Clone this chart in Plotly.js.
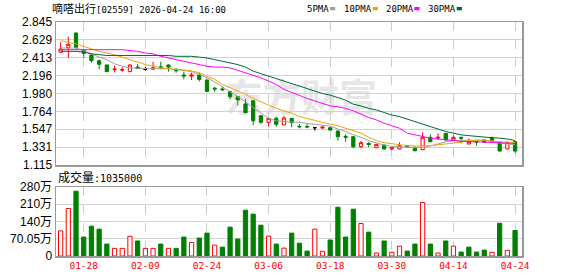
<!DOCTYPE html>
<html><head><meta charset="utf-8">
<script src="https://cdn.plot.ly/plotly-3.0.1.min.js"></script>
<style>
html,body{margin:0;padding:0;background:#fff;}
#wrap{position:relative;width:578px;height:276px;overflow:hidden;}
#wm{position:absolute;left:225px;top:67px;font:bold 38px "Noto Sans CJK SC";color:#e6e6e6;white-space:nowrap;letter-spacing:0px;}
#chart{position:absolute;left:0;top:0;width:578px;height:276px;}
</style></head><body>
<div id="wrap"><div id="wm">东方财富</div><div id="chart"></div></div>
<script>
const dates = ['01-23','01-26','01-27','01-28','01-29','01-30','02-02','02-03','02-04','02-05','02-06','02-09','02-10','02-11','02-12','02-13','02-16','02-20','02-23','02-24','02-25','02-26','02-27','03-02','03-03','03-04','03-05','03-06','03-09','03-10','03-11','03-12','03-13','03-16','03-17','03-18','03-19','03-20','03-23','03-24','03-25','03-26','03-27','03-30','03-31','04-01','04-02','04-08','04-09','04-10','04-13','04-14','04-15','04-16','04-17','04-20','04-21','04-22','04-23','04-24'];
const openP  = [2.478,2.534,2.712,2.506,2.446,2.377,2.325,2.268,2.262,2.244,2.300,2.270,2.275,2.304,2.325,2.273,2.204,2.190,2.204,2.143,2.045,2.035,2.002,1.941,1.853,1.893,1.711,1.631,1.680,1.599,1.680,1.583,1.580,1.566,1.562,1.566,1.526,1.462,1.457,1.336,1.375,1.324,1.357,1.309,1.309,1.345,1.329,1.300,1.450,1.440,1.498,1.417,1.450,1.369,1.397,1.417,1.450,1.390,1.309,1.397];
const highP  = [2.600,2.667,2.715,2.510,2.450,2.389,2.330,2.318,2.300,2.330,2.337,2.300,2.365,2.365,2.330,2.285,2.244,2.232,2.232,2.145,2.062,2.062,2.014,1.945,1.911,1.895,1.715,1.680,1.700,1.711,1.682,1.611,1.611,1.575,1.578,1.578,1.530,1.486,1.460,1.405,1.395,1.370,1.360,1.330,1.390,1.350,1.335,1.510,1.486,1.498,1.500,1.474,1.455,1.438,1.417,1.420,1.455,1.395,1.395,1.400];
const lowP   = [2.478,2.413,2.522,2.413,2.353,2.273,2.240,2.236,2.240,2.240,2.280,2.256,2.264,2.273,2.244,2.232,2.151,2.143,2.125,2.000,2.002,2.014,1.911,1.836,1.745,1.595,1.615,1.578,1.578,1.599,1.571,1.559,1.559,1.530,1.555,1.530,1.409,1.397,1.317,1.317,1.330,1.320,1.300,1.290,1.305,1.325,1.280,1.295,1.390,1.417,1.417,1.410,1.377,1.365,1.348,1.385,1.385,1.280,1.305,1.264];
const closeP = [2.518,2.575,2.539,2.466,2.377,2.333,2.244,2.275,2.270,2.325,2.285,2.270,2.290,2.292,2.300,2.255,2.192,2.204,2.151,2.005,2.034,2.025,1.941,1.901,1.748,1.651,1.631,1.680,1.607,1.684,1.627,1.578,1.575,1.566,1.574,1.538,1.457,1.450,1.336,1.385,1.362,1.365,1.309,1.324,1.349,1.335,1.288,1.450,1.397,1.450,1.417,1.450,1.440,1.397,1.390,1.390,1.390,1.284,1.390,1.284];
const blackDojiDates = ['02-09','03-16'];
const volume = [1020000,1930000,2630000,770000,1210000,1090000,485000,310000,310000,800000,610000,310000,310000,485000,310000,310000,770000,550000,730000,930000,440000,360000,1170000,690000,1860000,1700000,1250000,810000,485000,320000,930000,520000,200000,1090000,190000,650000,1980000,770000,1900000,1320000,970000,120000,610000,150000,400000,200000,485000,2170000,485000,120000,610000,400000,160000,360000,160000,240000,150000,1330000,230000,1035000];
const volUp = [1,1,0,0,0,0,0,1,1,1,0,1,1,0,1,0,0,1,0,0,1,0,0,0,0,0,0,1,0,1,0,0,0,1,1,0,0,0,0,1,0,1,0,1,1,0,0,1,0,1,0,1,0,0,0,0,1,0,1,0];
const ma5  = [2.53,2.53,2.53,2.50,2.46,2.42,2.39,2.34,2.31,2.29,2.285,2.28,2.28,2.28,2.28,2.27,2.26,2.245,2.21,2.17,2.12,2.06,2.00,1.95,1.88,1.81,1.74,1.68,1.65,1.64,1.635,1.63,1.62,1.61,1.595,1.585,1.55,1.52,1.48,1.45,1.41,1.38,1.355,1.34,1.335,1.33,1.325,1.33,1.345,1.37,1.395,1.41,1.415,1.415,1.415,1.415,1.40,1.38,1.37,1.36];
const ma10 = [2.62,2.60,2.58,2.55,2.52,2.49,2.47,2.45,2.42,2.39,2.36,2.33,2.31,2.29,2.28,2.275,2.265,2.255,2.23,2.19,2.15,2.09,2.05,2.01,1.97,1.92,1.88,1.84,1.80,1.77,1.74,1.70,1.68,1.655,1.63,1.61,1.59,1.56,1.53,1.50,1.45,1.41,1.385,1.37,1.355,1.348,1.345,1.345,1.348,1.36,1.368,1.377,1.39,1.41,1.417,1.417,1.405,1.395,1.39,1.39];
const ma20 = [2.51,2.51,2.51,2.51,2.51,2.51,2.51,2.51,2.51,2.50,2.49,2.47,2.46,2.43,2.41,2.39,2.37,2.35,2.33,2.31,2.30,2.30,2.29,2.26,2.23,2.20,2.17,2.13,2.09,2.03,1.99,1.95,1.92,1.89,1.86,1.83,1.82,1.80,1.77,1.73,1.69,1.66,1.62,1.59,1.56,1.50,1.48,1.46,1.44,1.43,1.42,1.41,1.40,1.40,1.395,1.39,1.39,1.385,1.38,1.375];
const ma30 = [2.49,2.49,2.49,2.48,2.46,2.45,2.44,2.44,2.44,2.44,2.44,2.44,2.44,2.44,2.44,2.43,2.43,2.43,2.42,2.41,2.39,2.37,2.35,2.33,2.30,2.25,2.22,2.19,2.16,2.13,2.10,2.07,2.04,2.01,1.98,1.96,1.93,1.90,1.85,1.83,1.80,1.78,1.75,1.72,1.70,1.67,1.64,1.61,1.58,1.55,1.52,1.50,1.48,1.47,1.46,1.45,1.445,1.44,1.43,1.41];
const xTickLabels = ['01-28','02-09','02-24','03-06','03-18','03-30','04-14','04-24'];
const priceTicks = [1.115,1.331,1.547,1.764,1.980,2.196,2.413,2.629,2.845];
const volTickVals = [0,700500,1401000,2101500,2802000];
const volTickText = ['0','70.05万','140万','210万','280万'];
const maLabels = ['5PMA','10PMA','20PMA','30PMA'];
const titleText = '<span style="font-size:11px">嘀嗒出行</span>[02559] 2026-04-24 16:00';
const volLabel = '<span style="font-size:12px">成交量</span>:1035000';

const maColors = ['#a0a0a0','#f2a20c','#ff00ff','#006b33'];
const RED = '#ff0000', GREEN = '#008000';

const isBlack = dates.map(d => blackDojiDates.includes(d));
const pick = (arr, keep) => arr.map((v,i) => keep(i) ? v : null);

const traces = [];
traces.push({
  type:'candlestick', x:dates, xaxis:'x', yaxis:'y',
  open:pick(openP,i=>!isBlack[i]), high:pick(highP,i=>!isBlack[i]),
  low:pick(lowP,i=>!isBlack[i]), close:pick(closeP,i=>!isBlack[i]),
  increasing:{line:{color:RED,width:1}, fillcolor:'#ffffff'},
  decreasing:{line:{color:GREEN,width:1}, fillcolor:GREEN},
  whiskerwidth:0, hoverinfo:'skip', showlegend:false
});
traces.push({
  type:'candlestick', x:dates, xaxis:'x', yaxis:'y',
  open:pick(openP,i=>isBlack[i]), high:pick(highP,i=>isBlack[i]),
  low:pick(lowP,i=>isBlack[i]), close:pick(closeP,i=>isBlack[i]),
  increasing:{line:{color:'#000000',width:1}, fillcolor:'#000000'},
  decreasing:{line:{color:'#000000',width:1}, fillcolor:'#000000'},
  whiskerwidth:0, hoverinfo:'skip', showlegend:false
});
[ma5,ma10,ma20,ma30].forEach((m,k) => traces.push({
  type:'scatter', mode:'lines', x:dates, y:m, xaxis:'x', yaxis:'y',
  line:{color:maColors[k], width:1}, hoverinfo:'skip', showlegend:false
}));
traces.push({
  type:'bar', x:dates, y:volume, xaxis:'x2', yaxis:'y2', width:0.55,
  marker:{color:volUp.map(u => u ? '#ffffff' : GREEN),
          line:{color:volUp.map(u => u ? RED : GREEN), width:1}},
  hoverinfo:'skip', showlegend:false
});

const W = 466, H = 234, L = 56, B = 256;
const px = v => (v - L) / W;
const py = v => (B - v) / H;
const axisFont = {family:'Liberation Sans, Noto Sans CJK SC', size:12, color:'#000'};
const monoFam = 'DejaVu Sans Mono, Noto Sans CJK SC';

const xCommon = {
  type:'category', categoryorder:'array', categoryarray:dates,
  range:[-0.6, 59.9], tickvals:xTickLabels, showgrid:true, griddash:'dash',
  gridcolor:'#cccccc', gridwidth:1, showline:true, mirror:true, linecolor:'#9a9a9a',
  linewidth:1.5, ticks:'', zeroline:false, fixedrange:true, rangeslider:{visible:false}
};

const annotations = [
  {text:titleText, xref:'paper', yref:'paper', x:px(50), y:py(9), xanchor:'left', yanchor:'middle',
   showarrow:false, font:{family:monoFam, size:9, color:'#000'}},
  {text:volLabel, xref:'paper', yref:'paper', x:px(56), y:py(177.5), xanchor:'left', yanchor:'middle',
   showarrow:false, font:{family:monoFam, size:10, color:'#000'}}
];
const legX = [306, 343, 385, 426.7];
const sqX = [330, 372.7, 414.3, 456.7];
const shapes = [];
maLabels.forEach((t,k) => {
  annotations.push({text:t, xref:'paper', yref:'paper', x:px(legX[k]-1), y:py(9), xanchor:'left', yanchor:'middle',
    showarrow:false, font:{family:monoFam, size:9, color:'#000'}});
  shapes.push({type:'rect', xref:'paper', yref:'paper', x0:px(sqX[k]), x1:px(sqX[k]+5.3),
    y0:py(10.3), y1:py(7), fillcolor:maColors[k], line:{width:0}});
});

const layout = {
  width:578, height:276, margin:{l:56, r:56, t:22, b:20},
  paper_bgcolor:'rgba(0,0,0,0)', plot_bgcolor:'rgba(0,0,0,0)',
  showlegend:false, hovermode:false, boxgap:0.4, bargap:0.45,
  xaxis:Object.assign({}, xCommon, {anchor:'y', showticklabels:false}),
  xaxis2:Object.assign({}, xCommon, {anchor:'y2', showticklabels:true,
    tickfont:{family:'DejaVu Sans Mono', size:9.5, color:'#ff0000'}}),
  yaxis:{domain:[py(165), 1], range:[1.115, 2.845], tickvals:priceTicks,
    ticktext:priceTicks.map(v => v.toFixed(3)), showgrid:true, gridcolor:'#d2d2d2', gridwidth:1,
    showline:true, mirror:true, linecolor:'#9a9a9a', linewidth:1.5, ticks:'', zeroline:false,
    tickfont:axisFont, fixedrange:true},
  yaxis2:{domain:[0, py(187)], range:[0, 2802000], tickvals:volTickVals, ticktext:volTickText,
    showgrid:true, gridcolor:'#d2d2d2', gridwidth:1, showline:true, mirror:true,
    linecolor:'#9a9a9a', linewidth:1.5, ticks:'', zeroline:false, tickfont:axisFont, fixedrange:true},
  annotations:annotations, shapes:shapes
};

Plotly.newPlot('chart', traces, layout, {staticPlot:true, displayModeBar:false});
</script>
</body></html>
